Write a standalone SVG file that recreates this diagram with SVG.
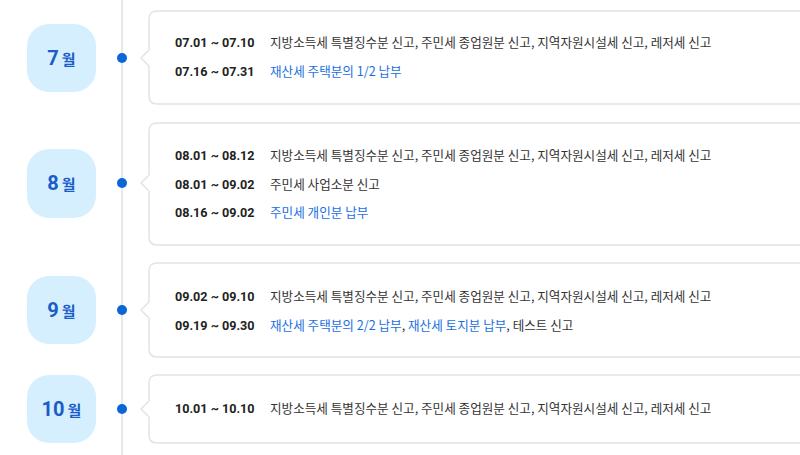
<svg xmlns="http://www.w3.org/2000/svg" width="800" height="455" viewBox="0 0 800 455">
<style>
.card{fill:#fff;stroke:#e4e4e4;stroke-width:1.5}
.badge{fill:#d5efff}
.mnum{font-family:Roboto,"Noto Sans",sans-serif;font-weight:700;font-size:20px;fill:#1a5cc8}
.mchr{font-family:"Noto Sans CJK KR",sans-serif;font-weight:700;font-size:15px;fill:#1a5cc8}
.dot{fill:#0a66d8}
.date{font-family:Roboto,"Noto Sans",sans-serif;font-weight:700;font-size:12.6px;fill:#222}
.txt{font-family:"Noto Sans CJK KR",sans-serif;font-size:12.6px;fill:#333}
.blue{fill:#1a6fe0}
</style>
<rect width="800" height="455" fill="#fff"/>
<g id="connectors">
<line x1="122" y1="0" x2="122" y2="455" stroke="#e8e8e8" stroke-width="2"/>
</g>
<g id="m7">
<rect class="badge" x="27" y="24" width="69" height="68" rx="22"/>
<text x="61.5" y="65" text-anchor="middle"><tspan class="mnum">7</tspan><tspan class="mchr" dx="3">월</tspan></text>
<circle class="dot" cx="122" cy="58" r="5"/>
<path class="card" d="M157,11 H820 V104 H157 Q149,104 149,96 V66 L141,58 L149,50 V19 Q149,11 157,11 Z"/>
<text class="date" x="175" y="47">07.01 ~ 07.10</text>
<text class="txt" x="270" y="47">지방소득세 특별징수분 신고, 주민세 종업원분 신고, 지역자원시설세 신고, 레저세 신고</text>
<text class="date" x="175" y="76">07.16 ~ 07.31</text>
<text class="txt blue" x="270" y="76">재산세 주택분의 1/2 납부</text>
</g>
<g id="m8">
<rect class="badge" x="27" y="149" width="69" height="69" rx="22"/>
<text x="61.5" y="190" text-anchor="middle"><tspan class="mnum">8</tspan><tspan class="mchr" dx="3">월</tspan></text>
<circle class="dot" cx="122" cy="183" r="5"/>
<path class="card" d="M157,123 H820 V245 H157 Q149,245 149,237 V191 L141,183 L149,175 V131 Q149,123 157,123 Z"/>
<text class="date" x="175" y="160">08.01 ~ 08.12</text>
<text class="txt" x="270" y="160">지방소득세 특별징수분 신고, 주민세 종업원분 신고, 지역자원시설세 신고, 레저세 신고</text>
<text class="date" x="175" y="189">08.01 ~ 09.02</text>
<text class="txt" x="270" y="189">주민세 사업소분 신고</text>
<text class="date" x="175" y="217">08.16 ~ 09.02</text>
<text class="txt blue" x="270" y="217">주민세 개인분 납부</text>
</g>
<g id="m9">
<rect class="badge" x="27" y="276" width="69" height="68" rx="22"/>
<text x="61.5" y="317" text-anchor="middle"><tspan class="mnum">9</tspan><tspan class="mchr" dx="3">월</tspan></text>
<circle class="dot" cx="122" cy="310" r="5"/>
<path class="card" d="M157,263 H820 V357 H157 Q149,357 149,349 V318 L141,310 L149,302 V271 Q149,263 157,263 Z"/>
<text class="date" x="175" y="301">09.02 ~ 09.10</text>
<text class="txt" x="270" y="301">지방소득세 특별징수분 신고, 주민세 종업원분 신고, 지역자원시설세 신고, 레저세 신고</text>
<text class="date" x="175" y="330">09.19 ~ 09.30</text>
<text class="txt" x="270" y="330"><tspan class="blue">재산세 주택분의 2/2 납부</tspan>, <tspan class="blue">재산세 토지분 납부</tspan>, 테스트 신고</text>
</g>
<g id="m10">
<rect class="badge" x="27" y="375" width="69" height="68" rx="22"/>
<text x="61.5" y="416" text-anchor="middle"><tspan class="mnum">10</tspan><tspan class="mchr" dx="3">월</tspan></text>
<circle class="dot" cx="122" cy="409" r="5"/>
<path class="card" d="M157,375 H820 V443 H157 Q149,443 149,435 V417 L141,409 L149,401 V383 Q149,375 157,375 Z"/>
<text class="date" x="175" y="413">10.01 ~ 10.10</text>
<text class="txt" x="270" y="413">지방소득세 특별징수분 신고, 주민세 종업원분 신고, 지역자원시설세 신고, 레저세 신고</text>
</g>
</svg>
